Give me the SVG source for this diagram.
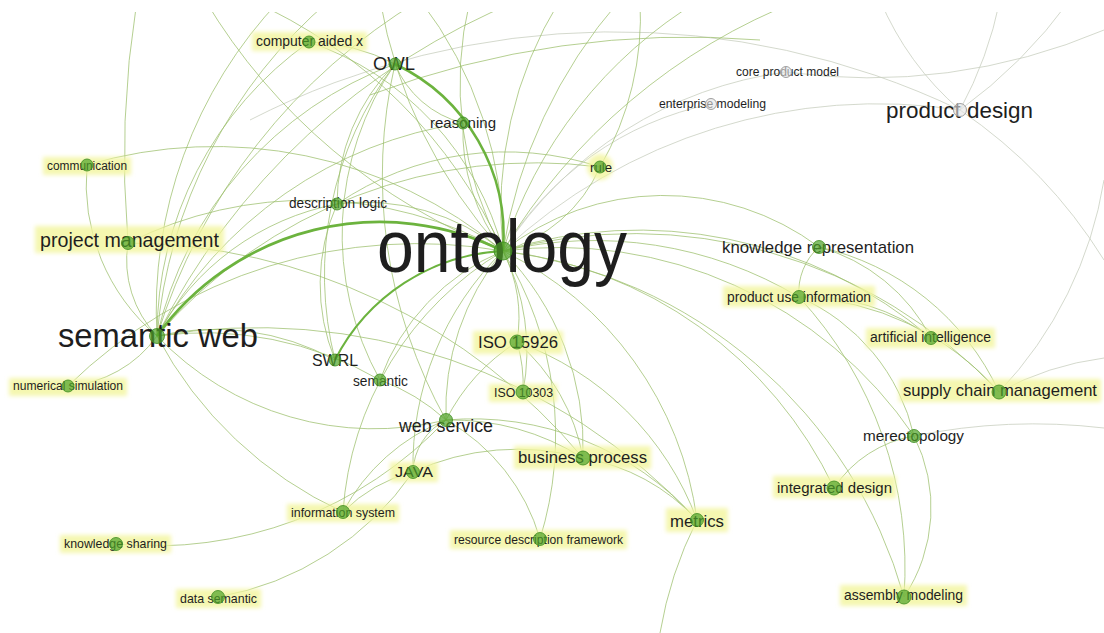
<svg xmlns="http://www.w3.org/2000/svg" width="1104" height="633" viewBox="0 0 1104 633">
<defs>
<clipPath id="clip"><rect x="0" y="12" width="1104" height="621"/></clipPath>
<filter id="blur" x="-20%" y="-50%" width="140%" height="200%"><feGaussianBlur stdDeviation="2"/></filter>
<style>
.e{fill:none;stroke:#9cbf6c;stroke-width:1;stroke-opacity:0.75}
.g{fill:none;stroke:#c9cfc0;stroke-width:1;stroke-opacity:0.8}
.t{fill:none;stroke:#6cb33e}
.n{fill:#4fa226;fill-opacity:0.7;stroke:#3d8c1f;stroke-width:1;stroke-opacity:0.8}
.gn{fill:#e4e4e4;fill-opacity:0.6;stroke:#a0a0a0;stroke-width:1}
.hl{fill:#f3f59c;fill-opacity:0.8;filter:url(#blur)}
text{font-family:"Liberation Sans",Arial,sans-serif;fill:#1e1e1e;text-anchor:middle}
</style>
</defs>
<rect width="1104" height="633" fill="#ffffff"/>
<g id="connectors" clip-path="url(#clip)">
<path class="g" d="M503,251 A320,320 0 0 1 711,104"/>
<path class="g" d="M503,251 A400,400 0 0 1 786,72"/>
<path class="g" d="M503,251 A550,550 0 0 1 960,110"/>
<path class="g" d="M250,120 A800,800 0 0 1 960,110"/>
<path class="g" d="M960,110 A300,300 0 0 1 880,0"/>
<path class="g" d="M960,110 A400,400 0 0 0 1000,0"/>
<path class="g" d="M960,110 A500,500 0 0 0 1070,0"/>
<path class="g" d="M960,110 A500,500 0 0 1 1104,260"/>
<path class="g" d="M786,72 A600,600 0 0 0 1104,30"/>
<path class="e" d="M309,42 A300,300 0 0 1 503,251"/>
<path class="e" d="M87,165 A450,450 0 0 1 503,251"/>
<path class="e" d="M128,243 A400,400 0 0 1 503,251"/>
<path class="e" d="M68,386 A500,500 0 0 1 503,251"/>
<path class="e" d="M337,204 A220,220 0 0 1 503,251"/>
<path class="e" d="M463,123 A200,200 0 0 0 503,251"/>
<path class="e" d="M380,380 A220,220 0 0 1 503,251"/>
<path class="e" d="M503,251 A150,150 0 0 1 517,342"/>
<path class="e" d="M503,251 A220,220 0 0 1 523,392"/>
<path class="e" d="M503,251 A250,250 0 0 0 446,420"/>
<path class="e" d="M503,251 A300,300 0 0 0 413,472"/>
<path class="e" d="M503,251 A280,280 0 0 1 583,458"/>
<path class="e" d="M503,251 A350,350 0 0 1 697,520"/>
<path class="e" d="M503,251 A260,260 0 0 1 819,247"/>
<path class="e" d="M503,251 A400,400 0 0 1 799,297"/>
<path class="e" d="M503,251 A450,450 0 0 1 931,338"/>
<path class="e" d="M503,251 A500,500 0 0 1 999,392"/>
<path class="e" d="M503,251 A430,430 0 0 1 914,436"/>
<path class="e" d="M503,251 A420,420 0 0 1 834,488"/>
<path class="e" d="M503,251 A480,480 0 0 1 904,597"/>
<path class="e" d="M503,251 A330,330 0 0 0 343,512"/>
<path class="e" d="M503,251 A350,350 0 0 1 540,539"/>
<path class="e" d="M503,251 A150,150 0 0 0 600,167"/>
<path class="e" d="M128,243 A110,110 0 0 0 157,336"/>
<path class="e" d="M68,386 A120,120 0 0 0 157,336"/>
<path class="e" d="M157,336 A380,380 0 0 1 395,64"/>
<path class="e" d="M157,336 A260,260 0 0 1 337,204"/>
<path class="e" d="M157,336 A360,360 0 0 1 309,42"/>
<path class="e" d="M87,165 A200,200 0 0 0 157,336"/>
<path class="e" d="M157,336 A300,300 0 0 0 446,420"/>
<path class="e" d="M157,336 A250,250 0 0 1 335,360"/>
<path class="e" d="M157,336 A350,350 0 0 1 380,380"/>
<path class="e" d="M157,336 A500,500 0 0 1 600,167"/>
<path class="e" d="M157,336 A400,400 0 0 0 343,512"/>
<path class="e" d="M157,336 A420,420 0 0 1 463,123"/>
<path class="e" d="M157,336 A500,500 0 0 1 330,0"/>
<path class="e" d="M157,336 A450,450 0 0 1 280,0"/>
<path class="e" d="M157,336 A600,600 0 0 1 420,0"/>
<path class="e" d="M157,336 A700,700 0 0 1 520,0"/>
<path class="e" d="M157,336 A600,600 0 0 1 697,520"/>
<path class="e" d="M128,243 A600,600 0 0 1 583,458"/>
<path class="e" d="M128,243 A1000,1000 0 0 1 137,0"/>
<path class="e" d="M503,251 A400,400 0 0 0 420,0"/>
<path class="e" d="M503,251 A500,500 0 0 1 380,0"/>
<path class="e" d="M503,251 A350,350 0 0 1 470,0"/>
<path class="e" d="M503,251 A400,400 0 0 1 560,0"/>
<path class="e" d="M503,251 A500,500 0 0 1 620,0"/>
<path class="e" d="M503,251 A450,450 0 0 1 700,0"/>
<path class="e" d="M503,251 A600,600 0 0 1 800,0"/>
<path class="e" d="M503,251 A500,500 0 0 0 250,0"/>
<path class="e" d="M205,0 A600,600 0 0 0 503,251"/>
<path class="e" d="M370,95 A900,900 0 0 1 760,40"/>
<path class="e" d="M819,247 A60,60 0 0 0 799,297"/>
<path class="e" d="M819,247 A180,180 0 0 1 931,338"/>
<path class="e" d="M819,247 A260,260 0 0 1 999,392"/>
<path class="e" d="M799,297 A280,280 0 0 1 999,392"/>
<path class="e" d="M799,297 A200,200 0 0 1 931,338"/>
<path class="e" d="M799,297 A200,200 0 0 1 914,436"/>
<path class="e" d="M799,297 A400,400 0 0 1 904,597"/>
<path class="e" d="M914,436 A120,120 0 0 0 834,488"/>
<path class="e" d="M914,436 A160,160 0 0 1 904,597"/>
<path class="g" d="M914,436 A600,600 0 0 1 1104,428"/>
<path class="g" d="M999,392 A400,400 0 0 0 1104,180"/>
<path class="g" d="M999,392 A300,300 0 0 1 1104,358"/>
<path class="e" d="M697,520 A400,400 0 0 0 660,633"/>
<path class="e" d="M583,458 A200,200 0 0 1 697,520"/>
<path class="e" d="M446,420 A300,300 0 0 1 697,520"/>
<path class="e" d="M517,342 A300,300 0 0 1 697,520"/>
<path class="e" d="M446,420 A250,250 0 0 1 583,458"/>
<path class="e" d="M413,472 A250,250 0 0 1 583,458"/>
<path class="e" d="M517,342 A200,200 0 0 1 583,458"/>
<path class="e" d="M517,342 A150,150 0 0 1 523,392"/>
<path class="e" d="M446,420 A60,60 0 0 0 413,472"/>
<path class="e" d="M413,472 A150,150 0 0 0 343,512"/>
<path class="e" d="M446,420 A200,200 0 0 0 343,512"/>
<path class="e" d="M446,420 A200,200 0 0 1 540,539"/>
<path class="e" d="M380,380 A200,200 0 0 1 446,420"/>
<path class="e" d="M517,342 A200,200 0 0 0 446,420"/>
<path class="e" d="M116,544 A400,400 0 0 0 446,420"/>
<path class="e" d="M218,597 A300,300 0 0 0 413,472"/>
<path class="e" d="M335,360 A200,200 0 0 1 337,204"/>
<path class="e" d="M335,360 A350,350 0 0 1 395,64"/>
<path class="e" d="M337,204 A200,200 0 0 1 395,64"/>
<path class="e" d="M309,42 A200,200 0 0 1 395,64"/>
<path class="e" d="M380,380 A300,300 0 0 1 395,64"/>
<path class="e" d="M446,420 A500,500 0 0 1 395,64"/>
<path class="e" d="M600,167 A300,300 0 0 0 337,204"/>
<path class="e" d="M600,167 A300,300 0 0 0 640,0"/>
<path class="e" d="M395,64 A100,100 0 0 0 463,123"/>
<path class="t" stroke-width="2" d="M335,360 A200,200 0 0 1 503,251"/>
<path class="t" stroke-width="2.5" d="M395,64 A190,190 0 0 1 503,251"/>
<path class="t" stroke-width="2.8" d="M157,336 A275,275 0 0 1 503,251"/>
</g>
<g id="n-computer-aided-x"><rect class="hl" x="252" y="32" width="115" height="19"/><text x="309.5" y="46" font-size="14.5" textLength="107" lengthAdjust="spacingAndGlyphs">computer aided x</text><circle class="n" cx="309" cy="42" r="6"/></g>
<g id="n-owl"><text x="394" y="70" font-size="18" textLength="42" lengthAdjust="spacingAndGlyphs">OWL</text><circle class="n" cx="395" cy="64" r="6"/></g>
<g id="n-reasoning"><text x="463" y="128" font-size="15" textLength="66" lengthAdjust="spacingAndGlyphs">reasoning</text><circle class="n" cx="463" cy="123" r="6"/></g>
<g id="n-rule"><circle class="hl" cx="600" cy="167" r="13"/><text x="601" y="172" font-size="13.5" textLength="22" lengthAdjust="spacingAndGlyphs">rule</text><circle class="n" cx="600" cy="167" r="6"/></g>
<g id="n-enterprise-modeling"><text x="712.5" y="108" font-size="12.5" textLength="107" lengthAdjust="spacingAndGlyphs">enterprise modeling</text><circle class="gn" cx="711" cy="104" r="5.5"/></g>
<g id="n-core-product-model"><text x="787.5" y="76" font-size="12.3" textLength="103" lengthAdjust="spacingAndGlyphs">core product model</text><circle class="gn" cx="786" cy="72" r="5.5"/></g>
<g id="n-product-design"><text x="959.5" y="118" font-size="22.5" textLength="147" lengthAdjust="spacingAndGlyphs">product design</text><circle class="gn" cx="960" cy="110" r="6.5"/></g>
<g id="n-communication"><rect class="hl" x="43" y="157" width="88" height="18"/><text x="87" y="170" font-size="12" textLength="80" lengthAdjust="spacingAndGlyphs">communication</text><circle class="n" cx="87" cy="165" r="6"/></g>
<g id="n-description-logic"><text x="338" y="208" font-size="14" textLength="98" lengthAdjust="spacingAndGlyphs">description logic</text><circle class="n" cx="337" cy="204" r="6"/></g>
<g id="n-project-management"><rect class="hl" x="35" y="226" width="189" height="27"/><text x="129.5" y="247" font-size="19.8" textLength="179" lengthAdjust="spacingAndGlyphs">project management</text><circle class="n" cx="128" cy="243" r="6.5"/></g>
<g id="n-semantic-web"><text x="158" y="347" font-size="33" textLength="200" lengthAdjust="spacingAndGlyphs">semantic web</text><circle class="n" cx="157" cy="336" r="7.5"/></g>
<g id="n-numerical-simulation"><rect class="hl" x="9" y="378" width="118" height="18"/><text x="68" y="390" font-size="12.3" textLength="110" lengthAdjust="spacingAndGlyphs">numerical simulation</text><circle class="n" cx="68" cy="386" r="6"/></g>
<g id="n-swrl"><text x="335" y="366" font-size="16.5" textLength="46" lengthAdjust="spacingAndGlyphs">SWRL</text><circle class="n" cx="335" cy="360" r="6"/></g>
<g id="n-semantic"><text x="380.5" y="386" font-size="14" textLength="55" lengthAdjust="spacingAndGlyphs">semantic</text><circle class="n" cx="380" cy="380" r="6"/></g>
<g id="n-ontology"><text x="502" y="272" font-size="74" textLength="250" lengthAdjust="spacingAndGlyphs" fill="#0a0a0a">ontology</text><circle class="n" cx="503" cy="251" r="9"/></g>
<g id="n-iso-15926"><rect class="hl" x="473" y="331" width="90" height="23"/><text x="518" y="348" font-size="17" textLength="80" lengthAdjust="spacingAndGlyphs">ISO 15926</text><circle class="n" cx="517" cy="342" r="7"/></g>
<g id="n-iso-10303"><rect class="hl" x="489" y="384" width="68" height="18"/><text x="523.5" y="397" font-size="12.5" textLength="59" lengthAdjust="spacingAndGlyphs">ISO 10303</text><circle class="n" cx="523" cy="392" r="7"/></g>
<g id="n-web-service"><text x="446" y="432" font-size="18" textLength="94" lengthAdjust="spacingAndGlyphs">web service</text><circle class="n" cx="446" cy="420" r="6.5"/></g>
<g id="n-java"><rect class="hl" x="390" y="462" width="48" height="20"/><text x="414" y="477" font-size="15.5" textLength="38" lengthAdjust="spacingAndGlyphs">JAVA</text><circle class="n" cx="413" cy="472" r="6.5"/></g>
<g id="n-information-system"><rect class="hl" x="287" y="504" width="112" height="18"/><text x="343" y="517" font-size="12.6" textLength="104" lengthAdjust="spacingAndGlyphs">information system</text><circle class="n" cx="343" cy="512" r="6.5"/></g>
<g id="n-knowledge-sharing"><rect class="hl" x="60" y="535" width="111" height="18"/><text x="115.5" y="548" font-size="12.6" textLength="103" lengthAdjust="spacingAndGlyphs">knowledge sharing</text><circle class="n" cx="116" cy="544" r="6.5"/></g>
<g id="n-data-semantic"><rect class="hl" x="176" y="589" width="85" height="19"/><text x="218.5" y="603" font-size="12.6" textLength="77" lengthAdjust="spacingAndGlyphs">data semantic</text><circle class="n" cx="218" cy="597" r="6.5"/></g>
<g id="n-business-process"><rect class="hl" x="514" y="446" width="137" height="23"/><text x="582.5" y="463" font-size="17" textLength="129" lengthAdjust="spacingAndGlyphs">business process</text><circle class="n" cx="583" cy="458" r="7"/></g>
<g id="n-resource-description-framework"><rect class="hl" x="450" y="530" width="177" height="19"/><text x="538.5" y="544" font-size="12.3" textLength="169" lengthAdjust="spacingAndGlyphs">resource description framework</text><circle class="n" cx="540" cy="539" r="6.5"/></g>
<g id="n-metrics"><rect class="hl" x="666" y="508" width="62" height="24"/><text x="697" y="527" font-size="17" textLength="54" lengthAdjust="spacingAndGlyphs">metrics</text><circle class="n" cx="697" cy="520" r="6.5"/></g>
<g id="n-knowledge-representation"><text x="818" y="253" font-size="17" textLength="192" lengthAdjust="spacingAndGlyphs">knowledge representation</text><circle class="n" cx="819" cy="247" r="6.5"/></g>
<g id="n-product-use-information"><rect class="hl" x="723" y="286" width="152" height="21"/><text x="799" y="302" font-size="14" textLength="144" lengthAdjust="spacingAndGlyphs">product use information</text><circle class="n" cx="799" cy="297" r="6.5"/></g>
<g id="n-artificial-intelligence"><rect class="hl" x="866" y="328" width="129" height="20"/><text x="930.5" y="342" font-size="14" textLength="121" lengthAdjust="spacingAndGlyphs">artificial intelligence</text><circle class="n" cx="931" cy="338" r="6.5"/></g>
<g id="n-supply-chain-management"><rect class="hl" x="899" y="379" width="202" height="23"/><text x="1000" y="396" font-size="17" textLength="194" lengthAdjust="spacingAndGlyphs">supply chain management</text><circle class="n" cx="999" cy="392" r="7"/></g>
<g id="n-mereotopology"><text x="913.5" y="441" font-size="15.5" textLength="101" lengthAdjust="spacingAndGlyphs">mereotopology</text><circle class="n" cx="914" cy="436" r="6.5"/></g>
<g id="n-integrated-design"><rect class="hl" x="773" y="476" width="123" height="22"/><text x="834.5" y="493" font-size="15.3" textLength="115" lengthAdjust="spacingAndGlyphs">integrated design</text><circle class="n" cx="834" cy="488" r="7"/></g>
<g id="n-assembly-modeling"><rect class="hl" x="840" y="585" width="127" height="21"/><text x="903.5" y="600" font-size="14.2" textLength="119" lengthAdjust="spacingAndGlyphs">assembly modeling</text><circle class="n" cx="904" cy="597" r="7"/></g>
</svg>
